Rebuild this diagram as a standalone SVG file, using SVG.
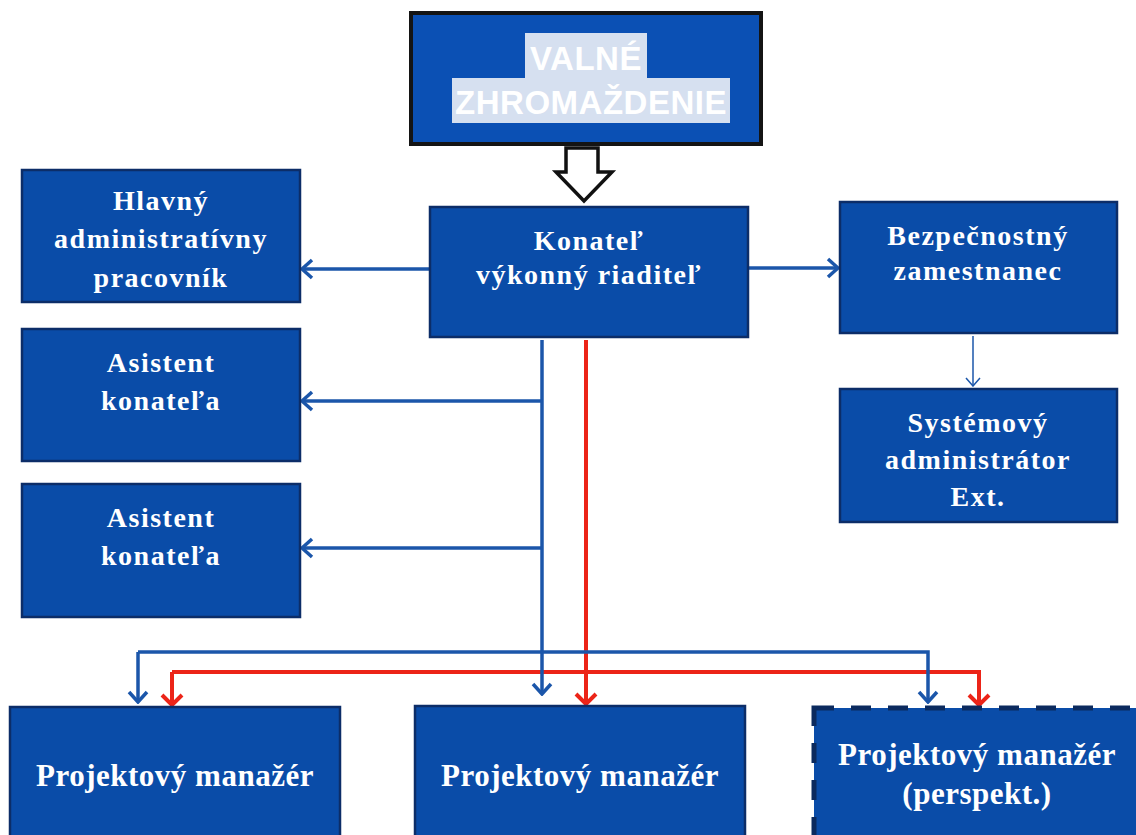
<svg xmlns="http://www.w3.org/2000/svg" width="1136" height="835" viewBox="0 0 1136 835">
<style>
.box{fill:#0a4ca8;stroke:#0c2d68;stroke-width:2.5}
.t{font-family:"Liberation Serif","Times New Roman",serif;font-weight:bold;fill:#ffffff;text-anchor:middle;font-size:28px;letter-spacing:1.5px}
.tb{font-size:31px;letter-spacing:0.5px}
.vz{font-family:"Liberation Sans",Arial,sans-serif;font-weight:bold;font-size:33px;fill:#ffffff;text-anchor:middle;letter-spacing:0.5px}
.blue{stroke:#1b56aa;stroke-width:3.5;fill:none}
.red{stroke:#ec2418;stroke-width:4;fill:none}
</style>
<defs>
<marker id="ab" markerUnits="userSpaceOnUse" viewBox="0 0 14 22" markerWidth="14" markerHeight="22" refX="12" refY="11" orient="auto">
<path d="M2,2 L12,11 L2,20" fill="none" stroke="#1b56aa" stroke-width="3.5"/>
</marker>
<marker id="ar" markerUnits="userSpaceOnUse" viewBox="0 0 14 24" markerWidth="14" markerHeight="24" refX="12" refY="12" orient="auto">
<path d="M2,2 L12,12 L2,22" fill="none" stroke="#ec2418" stroke-width="4"/>
</marker>
<marker id="as" markerUnits="userSpaceOnUse" viewBox="0 0 10 16" markerWidth="10" markerHeight="16" refX="9" refY="8" orient="auto">
<path d="M1,1 L9,8 L1,15" fill="none" stroke="#1b56aa" stroke-width="1.5"/>
</marker>
</defs>
<rect width="1136" height="835" fill="#ffffff"/>

<g id="connectors">
<path class="blue" d="M430,269 H302" marker-end="url(#ab)"/>
<path class="blue" d="M748,268 H838" marker-end="url(#ab)"/>
<path d="M973,336 V386" stroke="#1b56aa" stroke-width="1.5" fill="none" marker-end="url(#as)"/>
<path class="blue" d="M542,401 H302" marker-end="url(#ab)"/>
<path class="blue" d="M542,548 H302" marker-end="url(#ab)"/>
<path class="red" d="M586,340 V704" marker-end="url(#ar)"/>
<path class="red" d="M172,672 H979 V705" marker-end="url(#ar)"/>
<path class="red" d="M172,672 V705" marker-end="url(#ar)"/>
<path class="blue" d="M542,340 V694" marker-end="url(#ab)"/>
<path class="blue" d="M138,652 H928 V702" marker-end="url(#ab)"/>
<path class="blue" d="M138,652 V702" marker-end="url(#ab)"/>
<path d="M566,148 H598 V172 H612 L584,201 L556,172 H566 Z" fill="#ffffff" stroke="#111111" stroke-width="3.5" stroke-linejoin="miter"/>
</g>

<g id="valne">
<rect x="411" y="13" width="350" height="131" fill="#0b50b4" stroke="#141414" stroke-width="4"/>
<rect x="525" y="33" width="122" height="46" fill="#d6e0f0"/>
<rect x="452" y="78" width="278" height="45" fill="#d6e0f0"/>
<text class="vz" x="586" y="70">VALNÉ</text>
<text class="vz" x="591" y="114">ZHROMAŽDENIE</text>
</g>

<g id="konatel">
<rect class="box" x="430" y="207" width="318" height="130"/>
<text class="t" x="589" y="250">Konateľ</text>
<text class="t" x="589" y="284">výkonný riaditeľ</text>
</g>

<g id="hlavny">
<rect class="box" x="22" y="170" width="278" height="132"/>
<text class="t" x="161" y="210">Hlavný</text>
<text class="t" x="161" y="248">administratívny</text>
<text class="t" x="161" y="287">pracovník</text>
</g>

<g id="asistent1">
<rect class="box" x="22" y="329" width="278" height="132"/>
<text class="t" x="161" y="372">Asistent</text>
<text class="t" x="161" y="410">konateľa</text>
</g>

<g id="asistent2">
<rect class="box" x="22" y="484" width="278" height="133"/>
<text class="t" x="161" y="527">Asistent</text>
<text class="t" x="161" y="565">konateľa</text>
</g>

<g id="bezpecnostny">
<rect class="box" x="840" y="202" width="277" height="131"/>
<text class="t" x="978" y="245">Bezpečnostný</text>
<text class="t" x="978" y="280">zamestnanec</text>
</g>

<g id="systemovy">
<rect class="box" x="840" y="389" width="277" height="133"/>
<text class="t" x="978" y="432">Systémový</text>
<text class="t" x="978" y="469">administrátor</text>
<text class="t" x="978" y="506">Ext.</text>
</g>

<g id="pm1">
<rect class="box" x="10" y="707" width="330" height="150"/>
<text class="t tb" x="175" y="786">Projektový manažér</text>
</g>

<g id="pm2">
<rect class="box" x="415" y="706" width="330" height="150"/>
<text class="t tb" x="580" y="786">Projektový manažér</text>
</g>

<g id="pm3">
<rect x="814" y="708" width="340" height="150" fill="#0a4ca8" stroke="#0b2a5e" stroke-width="5" stroke-dasharray="20,17"/>
<text class="t tb" x="977" y="765">Projektový manažér</text>
<text class="t tb" x="977" y="804">(perspekt.)</text>
</g>
</svg>
